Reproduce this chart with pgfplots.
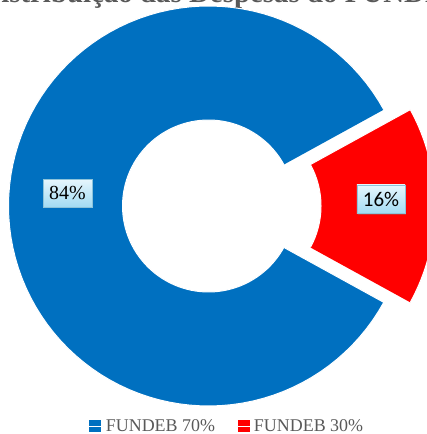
\documentclass[border=0pt]{standalone}
\usepackage{fontspec}
\setmainfont{Liberation Serif}
\newfontfamily\calibri{Carlito}
\usepackage{pgfplots}
\usepackage{pgfplotstable}
\pgfplotsset{compat=1.18}
\usetikzlibrary{shadows}

\definecolor{fblue}{HTML}{0070C0}
\definecolor{fred}{HTML}{FF0000}
\definecolor{tgray}{HTML}{595959}
\definecolor{boxtop}{HTML}{E6F6FD}
\definecolor{boxbot}{HTML}{A3DBF3}
\definecolor{boxdraw}{HTML}{8CC3DA}

\pgfplotstableread{
slice value
0 84
1 16
}\piedata

\begin{document}
\begin{tikzpicture}
\useasboundingbox (0,0) rectangle (427bp,434bp);
\pgfplotstablegetelem{0}{value}\of\piedata \pgfmathsetmacro{\vA}{\pgfplotsretval}
\pgfplotstablegetelem{1}{value}\of\piedata \pgfmathsetmacro{\vB}{\pgfplotsretval}
\pgfmathsetmacro{\tot}{\vA+\vB}
\pgfmathsetmacro{\fA}{\vA/\tot}
\pgfmathsetmacro{\fB}{\vB/\tot}
\pgfmathsetmacro{\hB}{180*\fB}% half angle of red slice
\pgfmathsetmacro{\sA}{\hB}
\pgfmathsetmacro{\spA}{360*\fA}
\pgfmathsetmacro{\sB}{-\hB}
\pgfmathsetmacro{\spB}{360*\fB}
\def\Rout{1}
\def\Rin{0.43}
\def\ex{0.1325}

\node[anchor=base, font=\fontsize{29}{32}\selectfont\bfseries, text=tgray] at (222bp,431.5bp) {Distribuição das Despesas do FUNDEB};

\begin{axis}[
  at={(208.5bp,228bp)}, anchor=origin,
  x=200bp, y=200bp,
  xmin=-1.1, xmax=1.3, ymin=-1.15, ymax=1.1,
  hide axis, clip=false,
  legend columns=2,
  legend image code/.code={\fill[#1, draw=none] (0bp,-6bp) rectangle (12bp,6bp); \path (0bp,0bp) -- (14bp,0bp);},
  legend style={at={(axis cs:0.0925,-1.1)}, anchor=center, draw=none, fill=none,
    font=\fontsize{18}{20}\selectfont, text=tgray,
    /tikz/every even column/.append style={column sep=20bp}},
]
% blue slice (donut wedge)
\addplot[fill=fblue, draw=white, line width=1bp, domain=0:201, samples=202, variable=\t]
 ({ (round(\t)<=100 ? \Rout : \Rin) * cos( round(\t)<=100 ? \sA+\spA*round(\t)/100 : \sA+\spA-\spA*(round(\t)-101)/100 ) },
  { (round(\t)<=100 ? \Rout : \Rin) * sin( round(\t)<=100 ? \sA+\spA*round(\t)/100 : \sA+\spA-\spA*(round(\t)-101)/100 ) });
% red slice (exploded)
\addplot[fill=fred, draw=white, line width=1bp, domain=0:201, samples=202, variable=\t]
 ({ \ex + (round(\t)<=100 ? \Rout : \Rin) * cos( round(\t)<=100 ? \sB+\spB*round(\t)/100 : \sB+\spB-\spB*(round(\t)-101)/100 ) },
  { (round(\t)<=100 ? \Rout : \Rin) * sin( round(\t)<=100 ? \sB+\spB*round(\t)/100 : \sB+\spB-\spB*(round(\t)-101)/100 ) });
\legend{FUNDEB 70\%, FUNDEB 30\%}
% data labels
\addplot[draw=none, forget plot, point meta=explicit symbolic, nodes near coords,
  nodes near coords style={anchor=center, font=\fontsize{20}{22}\selectfont, text=black,
    draw=boxdraw, line width=0.5bp, top color=boxtop, bottom color=boxbot,
    inner xsep=6bp, inner ysep=7bp,
    drop shadow={shadow xshift=1.3bp, shadow yshift=-1.3bp, opacity=0.35}}]
  coordinates {(-0.705,0.065) [84\%]};
\addplot[draw=none, forget plot, point meta=explicit symbolic, nodes near coords,
  nodes near coords style={anchor=center, font=\calibri\fontsize{21}{22}\selectfont, text=black,
    draw=boxdraw, line width=0.5bp, top color=boxtop, bottom color=boxbot,
    inner xsep=6bp, inner ysep=7bp,
    drop shadow={shadow xshift=1.3bp, shadow yshift=-1.3bp, opacity=0.35}}]
  coordinates {(0.8625,0.035) [16\%]};
\end{axis}
\end{tikzpicture}
\end{document}
